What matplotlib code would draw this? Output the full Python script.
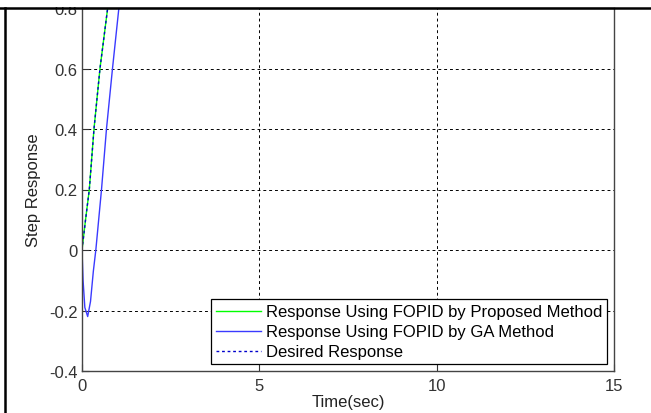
import matplotlib
matplotlib.use("Agg")
import matplotlib.pyplot as plt
from matplotlib.lines import Line2D
from matplotlib.patches import Rectangle

# Data
t_prop = [0.0, 0.10, 0.206, 0.338, 0.507, 0.724]
y_prop = [0.0, 0.10, 0.2, 0.4, 0.6, 0.8]

t_ga = [0.0, 0.03, 0.08, 0.16, 0.24, 0.32, 0.39, 0.55, 0.69, 0.86, 1.04]
y_ga = [0.0, -0.10, -0.19, -0.22, -0.17, -0.07, 0.0, 0.2, 0.4, 0.6, 0.8]

t_des = [0.0, 0.10, 0.206, 0.338, 0.507, 0.724]
y_des = [0.0, 0.10, 0.2, 0.4, 0.6, 0.8]

xticks = [0, 5, 10, 15]
yticks = [-0.4, -0.2, 0, 0.2, 0.4, 0.6, 0.8]
ytick_labels = ["-0.4", "-0.2", "0", "0.2", "0.4", "0.6", "0.8"]
legend_labels = ["Response Using FOPID by Proposed Method",
                 "Response Using FOPID by GA Method",
                 "Desired Response"]

plt.rcParams['font.family'] = ['Liberation Sans', 'DejaVu Sans']

W, H = 651, 414
fig = plt.figure(figsize=(W / 100, H / 100), dpi=100)
ax = fig.add_axes([82 / W, (H - 372) / H, (614 - 82) / W, (372 - 9) / H])

ax.plot(t_prop, y_prop, color='#00ff00', lw=1.0, label=legend_labels[0])
ax.plot(t_ga, y_ga, color='#3a3aff', lw=1.0, label=legend_labels[1])
ax.plot(t_des, y_des, color='#0000cc', lw=1.0, ls=(0, (2, 2)), label=legend_labels[2])

ax.set_xlim(0, 15)
ax.set_ylim(-0.4, 0.8)
ax.set_xticks(xticks)
ax.set_xticklabels([str(v) for v in xticks])
ax.set_yticks(yticks)
ax.set_yticklabels(ytick_labels)
ax.tick_params(direction='in', length=5, width=0.8, colors='#333333', labelsize=12)
ax.tick_params(axis='x', pad=5)
ax.tick_params(axis='y', pad=3)
ax.grid(True, color='black', ls=(0, (3, 3)), lw=0.7)
for s in ax.spines.values():
    s.set_color('#444444')
    s.set_linewidth(1.0)

ax.set_xlabel("Time(sec)", fontsize=12, color='#222222', labelpad=1)
ax.set_ylabel("Step Response", fontsize=12, color='#222222', labelpad=6)

leg = ax.legend(loc='lower right', fontsize=12, frameon=True, fancybox=False,
                edgecolor='black', framealpha=1, borderpad=0.3, labelspacing=0.3,
                handlelength=2.7, handletextpad=0.3, borderaxespad=0.4)
leg.get_frame().set_linewidth(0.9)

# cropped border at top and left
fig.patches.append(Rectangle((0, (H - 8) / H), 1, 8 / H, transform=fig.transFigure,
                             facecolor='white', edgecolor='none', zorder=5))
fig.lines.append(Line2D([0, 1], [(H - 8.5) / H] * 2, transform=fig.transFigure,
                        color='black', lw=1.8, zorder=6))
fig.lines.append(Line2D([4.5 / W] * 2, [0, (H - 8.5) / H], transform=fig.transFigure,
                        color='black', lw=1.8, zorder=6))

fig.savefig("out.png", dpi=100)
